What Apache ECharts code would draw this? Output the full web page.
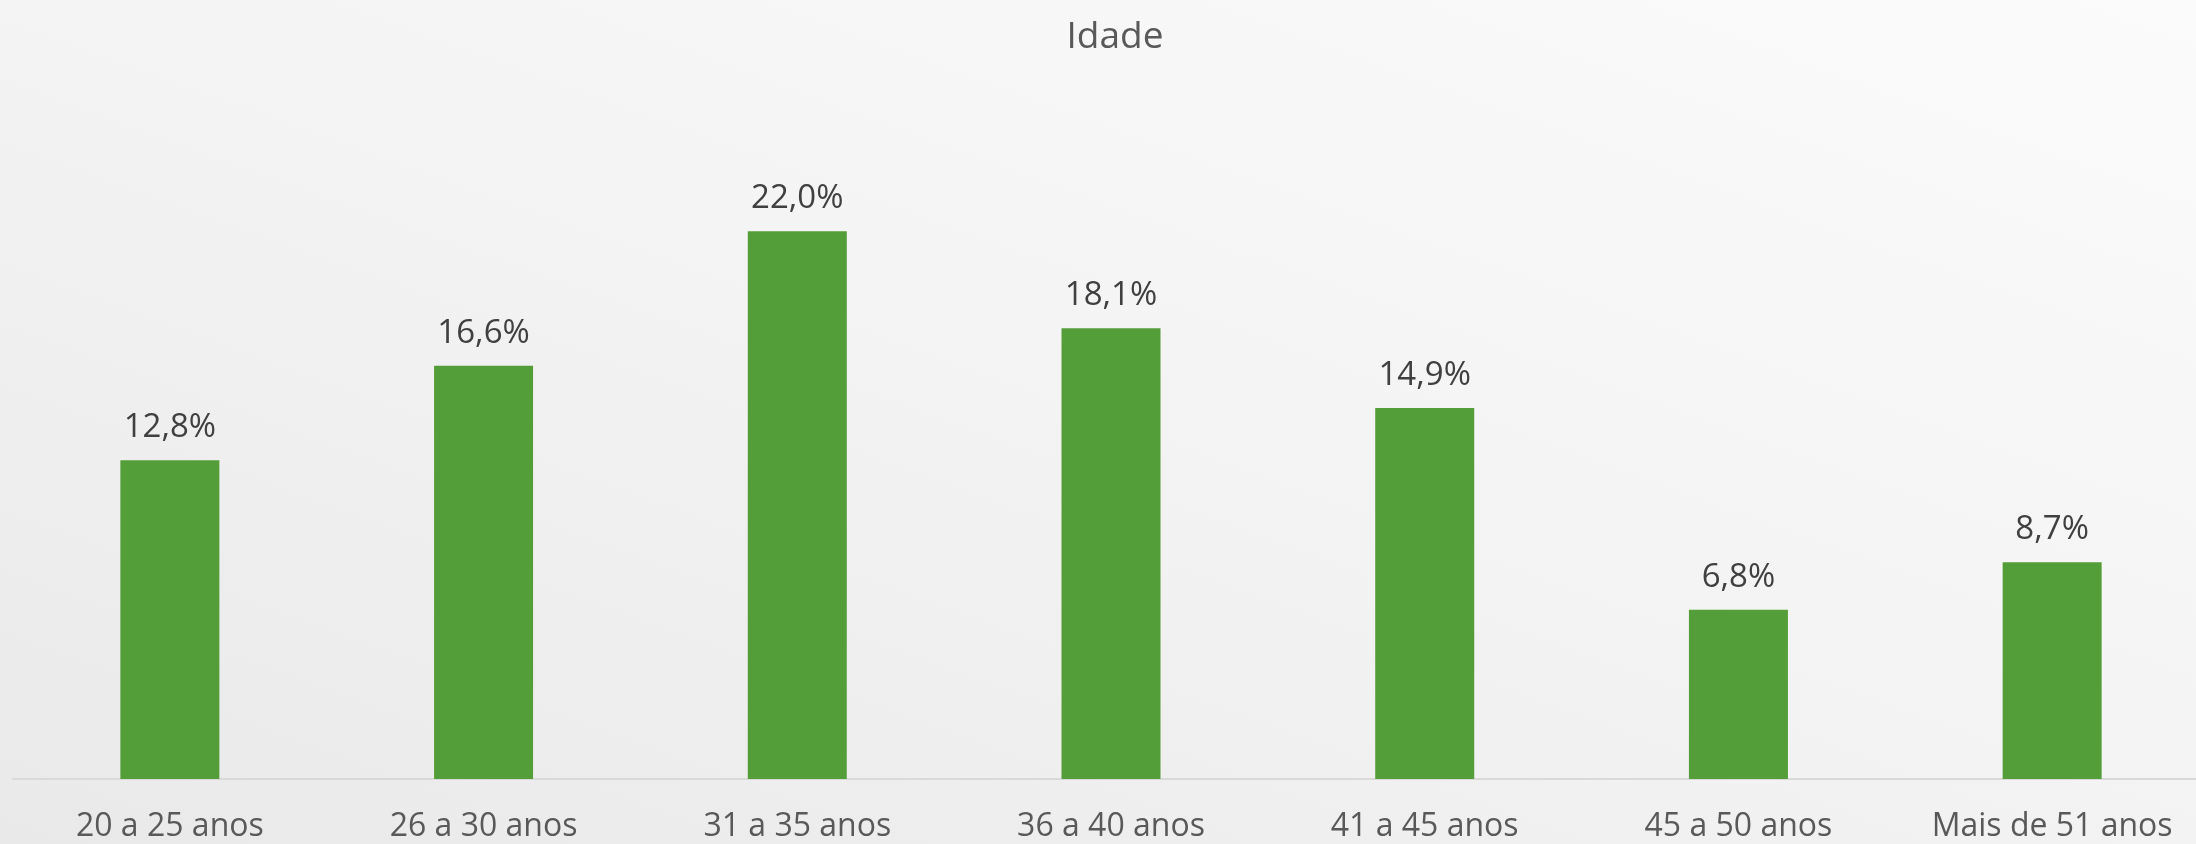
<!DOCTYPE html>
<html>
<head>
<meta charset="utf-8">
<title>Idade</title>
<script src="https://cdn.jsdelivr.net/npm/echarts@6/dist/echarts.min.js"></script>
<style>
  html, body { margin: 0; padding: 0; overflow: hidden; }
  body {
    width: 2196px;
    height: 844px;
    background: linear-gradient(200deg, #fbfbfb 0%, #f4f4f4 45%, #e9e9e9 100%);
  }
  /* a bit wider than the window: the last category is cut off on the right */
  #chart { width: 2209px; height: 844px; }
</style>
</head>
<body>
<div id="chart"></div>
<script>
// faixas etarias e percentuais
const categorias = ["20 a 25 anos", "26 a 30 anos", "31 a 35 anos", "36 a 40 anos", "41 a 45 anos", "45 a 50 anos", "Mais de 51 anos"];
const percentuais = [12.8, 16.6, 22.0, 18.1, 14.9, 6.8, 8.7];

const chart = echarts.init(document.getElementById("chart"));

chart.setOption({
  backgroundColor: "transparent",
  title: {
    text: "Idade",
    left: 1110,
    top: 14,
    textAlign: "center",
    textStyle: {
      fontFamily: "Open Sans",
      fontSize: 37,
      fontWeight: "normal",
      color: "#595959",
    },
  },
  grid: {
    left: 13,
    right: 0,
    top: 32,
    bottom: 65,
    containLabel: false,
  },
  xAxis: {
    type: "category",
    data: categorias,
    axisLine: { show: true, lineStyle: { color: "#d9d9d9", width: 2 } },
    axisTick: { show: false },
    axisLabel: {
      margin: 32,
      fontFamily: "Open Sans",
      fontSize: 32,
      color: "#595959",
      interval: 0,
    },
  },
  yAxis: {
    type: "value",
    min: 0,
    max: 30,
    show: false,
    splitLine: { show: false },
  },
  series: [
    {
      type: "bar",
      data: percentuais,
      barWidth: 99,
      itemStyle: { color: "#549e39" },
      label: {
        show: true,
        position: "top",
        distance: 16,
        fontFamily: "Open Sans",
        fontSize: 33,
        color: "#404040",
        formatter(p) {
          return p.value.toFixed(1).replace(".", ",") + "%";
        },
      },
    },
  ],
});
</script>
</body>
</html>
